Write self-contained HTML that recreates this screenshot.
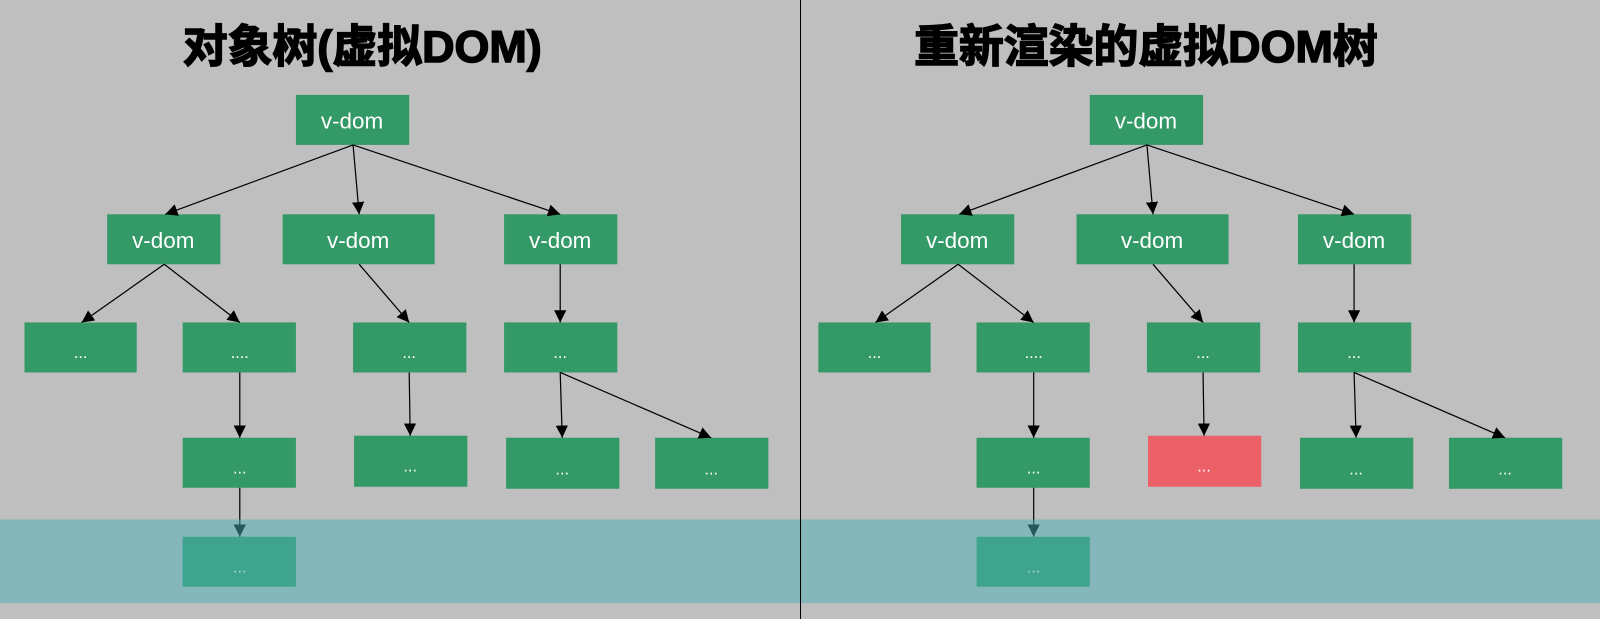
<!DOCTYPE html>
<html><head><meta charset="utf-8"><style>
html,body{margin:0;padding:0;background:#bfbfbf;overflow:hidden;}
svg{display:block;}
.n{fill:#339966;}
.t{fill:#fff;font-family:"Liberation Sans",sans-serif;font-size:22px;text-anchor:middle;}
.d{fill:#fff;font-family:"Liberation Sans",sans-serif;font-size:16px;text-anchor:middle;}
.h{fill:#000;stroke:#000;stroke-width:1.5;font-family:"Liberation Sans","Noto Sans CJK SC",sans-serif;font-size:44px;font-weight:bold;text-anchor:middle;}
line.e{stroke:#000;stroke-width:1.2;marker-end:url(#a);}
</style></head><body>
<svg width="1600" height="619" viewBox="0 0 1568 606.6" preserveAspectRatio="none" xmlns="http://www.w3.org/2000/svg">
<defs><marker id="a" viewBox="0 0 10 10" refX="10" refY="5" markerWidth="12" markerHeight="12" markerUnits="userSpaceOnUse" orient="auto"><path d="M0,0 L10,5 L0,10 z" fill="#000"/></marker></defs>
<rect width="1568" height="607" fill="#bfbfbf"/>
<text class="h" x="355" y="61">对象树(虚拟DOM)</text>
<text class="h" x="1123" y="61">重新渲染的虚拟DOM树</text>

<g id="L">
<rect class="n" x="290" y="93" width="111" height="49"/><text class="t" x="345" y="126">v-dom</text>
<rect class="n" x="105" y="210" width="111" height="49"/><text class="t" x="160" y="243">v-dom</text>
<rect class="n" x="277" y="210" width="149" height="49"/><text class="t" x="351" y="243">v-dom</text>
<rect class="n" x="494" y="210" width="111" height="49"/><text class="t" x="549" y="243">v-dom</text>
<rect class="n" x="24" y="316" width="110" height="49"/><text class="d" x="79" y="351">...</text>
<rect class="n" x="179" y="316" width="111" height="49"/><text class="d" x="235" y="351">....</text>
<rect class="n" x="346" y="316" width="111" height="49"/><text class="d" x="401" y="351">...</text>
<rect class="n" x="494" y="316" width="111" height="49"/><text class="d" x="549" y="351">...</text>
<rect class="n" x="179" y="429" width="111" height="49"/><text class="d" x="235" y="464">...</text>
<rect class="n" x="347" y="427" width="111" height="50"/><text class="d" x="402" y="462">...</text>
<rect class="n" x="496" y="429" width="111" height="50"/><text class="d" x="551" y="465">...</text>
<rect class="n" x="642" y="429" width="111" height="50"/><text class="d" x="697" y="465">...</text>
<rect class="n" x="179" y="526" width="111" height="49"/><text class="d" x="235" y="561">...</text>
<line class="e" x1="346" y1="142" x2="162" y2="210"/>
<line class="e" x1="346" y1="142" x2="352" y2="210"/>
<line class="e" x1="346" y1="142" x2="549" y2="210"/>
<line class="e" x1="161" y1="259" x2="80" y2="316"/>
<line class="e" x1="161" y1="259" x2="235" y2="316"/>
<line class="e" x1="352" y1="259" x2="401" y2="316"/>
<line class="e" x1="549" y1="259" x2="549" y2="316"/>
<line class="e" x1="235" y1="365" x2="235" y2="429"/>
<line class="e" x1="401" y1="365" x2="402" y2="427"/>
<line class="e" x1="549" y1="365" x2="551" y2="429"/>
<line class="e" x1="549" y1="365" x2="697" y2="429"/>
<line class="e" x1="235" y1="478" x2="235" y2="526"/>
</g>

<g transform="translate(778,0)">
<rect class="n" x="290" y="93" width="111" height="49"/><text class="t" x="345" y="126">v-dom</text>
<rect class="n" x="105" y="210" width="111" height="49"/><text class="t" x="160" y="243">v-dom</text>
<rect class="n" x="277" y="210" width="149" height="49"/><text class="t" x="351" y="243">v-dom</text>
<rect class="n" x="494" y="210" width="111" height="49"/><text class="t" x="549" y="243">v-dom</text>
<rect class="n" x="24" y="316" width="110" height="49"/><text class="d" x="79" y="351">...</text>
<rect class="n" x="179" y="316" width="111" height="49"/><text class="d" x="235" y="351">....</text>
<rect class="n" x="346" y="316" width="111" height="49"/><text class="d" x="401" y="351">...</text>
<rect class="n" x="494" y="316" width="111" height="49"/><text class="d" x="549" y="351">...</text>
<rect class="n" x="179" y="429" width="111" height="49"/><text class="d" x="235" y="464">...</text>
<rect fill="#ec6068" x="347" y="427" width="111" height="50"/><text class="d" x="402" y="462">...</text>
<rect class="n" x="496" y="429" width="111" height="50"/><text class="d" x="551" y="465">...</text>
<rect class="n" x="642" y="429" width="111" height="50"/><text class="d" x="697" y="465">...</text>
<rect class="n" x="179" y="526" width="111" height="49"/><text class="d" x="235" y="561">...</text>
<line class="e" x1="346" y1="142" x2="162" y2="210"/>
<line class="e" x1="346" y1="142" x2="352" y2="210"/>
<line class="e" x1="346" y1="142" x2="549" y2="210"/>
<line class="e" x1="161" y1="259" x2="80" y2="316"/>
<line class="e" x1="161" y1="259" x2="235" y2="316"/>
<line class="e" x1="352" y1="259" x2="401" y2="316"/>
<line class="e" x1="549" y1="259" x2="549" y2="316"/>
<line class="e" x1="235" y1="365" x2="235" y2="429"/>
<line class="e" x1="401" y1="365" x2="402" y2="427"/>
<line class="e" x1="549" y1="365" x2="551" y2="429"/>
<line class="e" x1="549" y1="365" x2="697" y2="429"/>
<line class="e" x1="235" y1="478" x2="235" y2="526"/>
</g>

<rect x="0" y="509" width="1568" height="82" fill="rgba(75,176,181,0.5)"/>
<line x1="784.5" y1="0" x2="784.5" y2="607" stroke="#000" stroke-width="1"/>
</svg>
</body></html>
